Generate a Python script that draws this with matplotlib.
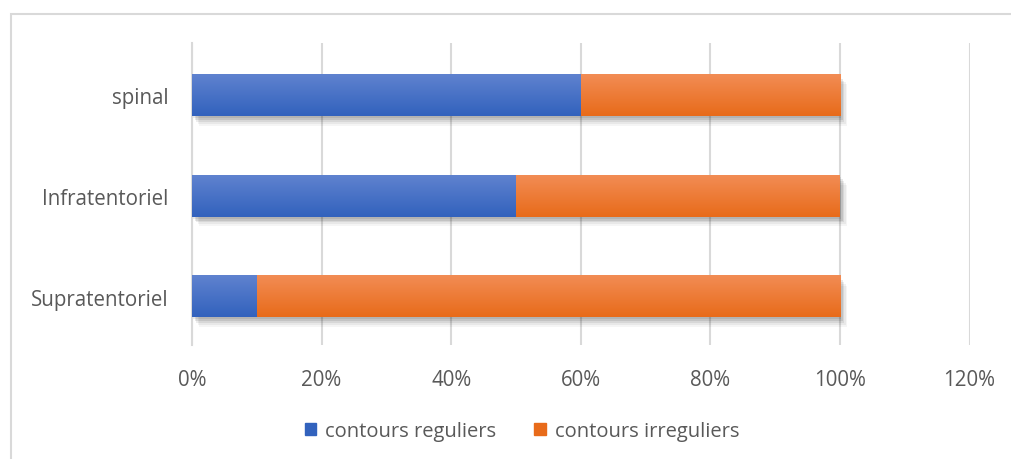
import matplotlib
matplotlib.use("Agg")
import matplotlib.pyplot as plt
import matplotlib.patches as mpatches
import matplotlib.patheffects as pe
import numpy as np
from matplotlib.ticker import FuncFormatter

# Share of tumours with regular / irregular contours, per location
categories = ["Supratentoriel", "Infratentoriel", "spinal"]
reguliers = [0.10, 0.50, 0.60]
irreguliers = [0.90, 0.50, 0.40]
series_names = ["contours reguliers", "contours irreguliers"]
x_ticks = [0.0, 0.2, 0.4, 0.6, 0.8, 1.0, 1.2]

blue_top, blue_bot = "#5f82cf", "#3262bd"
orange_top, orange_bot = "#f28c54", "#e86b1a"
grid_color = "#d9d9d9"
text_color = "#595959"

plt.rcParams["font.family"] = ["Open Sans", "DejaVu Sans"]

fig = plt.figure(figsize=(10.11, 4.6), dpi=100)
fig.patch.set_facecolor("white")

# outer chart border
fig.add_artist(mpatches.Rectangle(
    (11 / 1011, -0.05), 1.1, 1 - 15 / 460 + 0.05, transform=fig.transFigure,
    facecolor="none", edgecolor=grid_color, linewidth=1.5, zorder=0))

ax = fig.add_axes([192 / 1011, 1 - 346 / 460, (969.6 - 192) / 1011, (346 - 44) / 460])

y = np.arange(len(categories))
bar_h = 0.41
shadow = [pe.SimplePatchShadow(offset=(o, -o * 1.4), shadow_rgbFace="black", alpha=a)
          for o, a in [(5, 0.04), (4, 0.05), (3, 0.07), (2, 0.09), (1, 0.08)]]


def gradient_bars(lefts, widths, top, bot):
    bars = ax.barh(y, widths, left=lefts, height=bar_h, color="white",
                   edgecolor="none", zorder=2)
    cmap = matplotlib.colors.LinearSegmentedColormap.from_list("g", [bot, top])
    grad = np.linspace(0, 1, 64).reshape(-1, 1)
    for b in bars:
        b.set_path_effects(shadow + [pe.Normal()])
        x0, y0 = b.get_x(), b.get_y()
        ax.imshow(grad, cmap=cmap, origin="lower", aspect="auto",
                  extent=(x0, x0 + b.get_width(), y0, y0 + b.get_height()),
                  zorder=3, interpolation="bilinear")
    return bars


gradient_bars([0] * len(reguliers), reguliers, blue_top, blue_bot)
gradient_bars(reguliers, irreguliers, orange_top, orange_bot)
ax.set_xlim(0, 1.2)
ax.set_ylim(-0.48, len(categories) - 0.48)

ax.set_xticks(x_ticks)
ax.xaxis.set_major_formatter(FuncFormatter(lambda v, _: f"{v * 100:.0f}%"))
ax.set_yticks(y)
ax.set_yticklabels(categories)
ax.tick_params(length=0, labelsize=14.8, colors=text_color)
ax.tick_params(axis="x", pad=17)
ax.tick_params(axis="y", pad=17)
ax.grid(axis="x", color=grid_color, linewidth=1.5, zorder=0)
ax.set_axisbelow(True)
for side in ["top", "right", "bottom"]:
    ax.spines[side].set_visible(False)
ax.spines["left"].set_color(grid_color)
ax.spines["left"].set_linewidth(1.5)

handles = [mpatches.Patch(color=blue_bot, label=series_names[0]),
           mpatches.Patch(color=orange_bot, label=series_names[1])]
fig.legend(handles=handles, loc="center", bbox_to_anchor=(522 / 1011, 1 - 432 / 460),
           ncol=2, frameon=False, fontsize=14.5, handlelength=0.55, handleheight=0.55,
           handletextpad=0.45, columnspacing=1.9, labelcolor=text_color)

fig.savefig("out.png", dpi=100)
